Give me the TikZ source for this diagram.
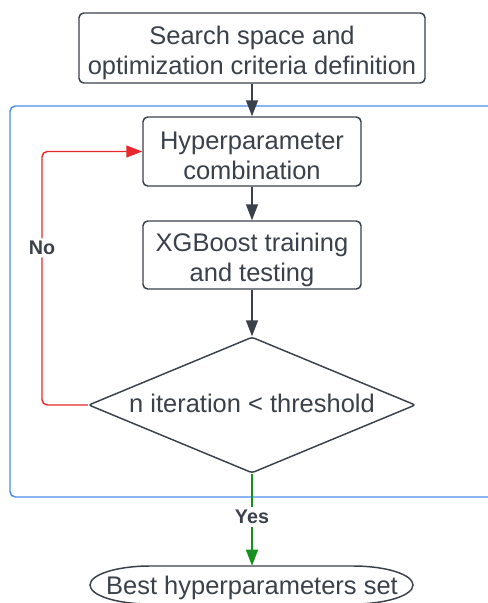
\documentclass[tikz,border=0pt]{standalone}
\usepackage{fontspec}
\setmainfont{Liberation Sans}
\usetikzlibrary{shapes.geometric,arrows.meta}
\definecolor{ink}{HTML}{3A414A}
\definecolor{frame}{HTML}{4A8CF0}
\definecolor{nored}{HTML}{E8282C}
\definecolor{yesgreen}{HTML}{16901E}
\tikzset{
  boxtext/.style={text=ink, font=\fontsize{19.1pt}{22.5pt}\selectfont, align=center, inner sep=0pt},
  stepbox/.style={draw=ink, line width=1.1pt, rounded corners=3.5pt, fill=white, inner sep=0pt},
  decide/.style={draw=ink, line width=1.1pt, diamond, fill=white, inner sep=0pt,
    minimum width=245.25pt, minimum height=102pt, shape aspect=2.4, rounded corners=2pt},
  flow/.style={draw=ink, line width=1.1pt, -{Triangle[length=12pt,width=9pt]}},
  lbl/.style={font=\fontsize{14.8pt}{17pt}\selectfont\bfseries, fill=white, inner sep=2pt}
}
\begin{document}
\begin{tikzpicture}[x=0.75pt,y=-0.75pt]
\useasboundingbox (0,0) rectangle (487,603);
% loop frame
\draw[frame, line width=1.1pt, rounded corners=4pt] (495,106) -- (10,106) -- (10,497) -- (495,497);
% nodes
\node[stepbox, minimum width=259.5pt, minimum height=52.5pt,
  label={[boxtext, yshift=-3.4pt]center:{Search space and\\optimization criteria definition}}]
  (space) at (252,48) {};
\node[stepbox, minimum width=163.5pt, minimum height=51.75pt,
  label={[boxtext, yshift=-3.4pt]center:{Hyperparameter\\combination}}]
  (hyper) at (252,151.5) {};
\node[stepbox, minimum width=163.5pt, minimum height=51pt,
  label={[boxtext, yshift=-3.4pt]center:{XGBoost training\\and testing}}]
  (xgb) at (252,255) {};
\node[decide, label={[boxtext, yshift=1.5pt]center:{n iteration < threshold}}]
  (cond) at (252,405) {};
\node[minimum width=242pt, minimum height=28.5pt, inner sep=0pt,
  label={[boxtext, yshift=-2.2pt]center:{Best hyperparameters set}}]
  (best) at (252,585) {};
\draw[ink, line width=1.1pt] (150,566) -- (353,566)
  arc[start angle=-90, end angle=90, x radius=60, y radius=19] -- (150,604)
  arc[start angle=90, end angle=270, x radius=60, y radius=19] -- cycle;
\coordinate (bend) at (42,405);
% connectors
\draw[flow] (space) -- (hyper);
\draw[flow] (hyper) -- (xgb);
\draw[flow] (xgb) -- (cond);
\draw[nored, line width=1.1pt, rounded corners=4pt, -{Triangle[length=12pt,width=9pt]}]
  (cond.west) -- (bend) |- (hyper.west)
  node[lbl, text=ink, pos=0.31] {No};
\draw[yesgreen, line width=1.1pt, -{Triangle[length=12pt,width=9pt]}]
  (cond.south) -- (best.north) node[lbl, text=ink, pos=0.47] {Yes};
\end{tikzpicture}
\end{document}
